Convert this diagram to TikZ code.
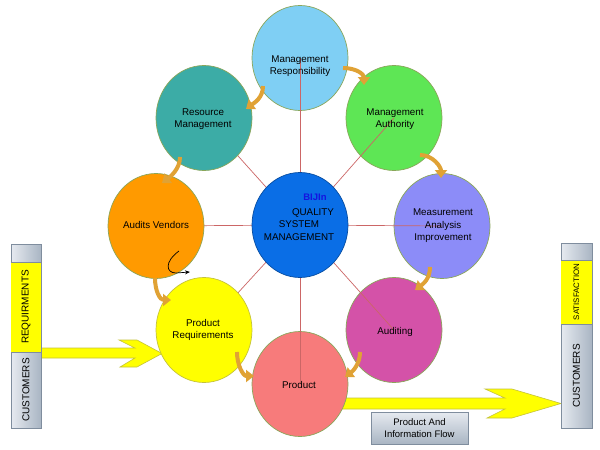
\documentclass[tikz,border=0pt]{standalone}
\usepackage{fontspec}
\setmainfont{Liberation Sans}
\usetikzlibrary{shapes.geometric,arrows.meta}
\definecolor{cMR}{HTML}{7FCFF4}
\definecolor{cMA}{HTML}{5EE655}
\definecolor{cMAI}{HTML}{8C8CF8}
\definecolor{cAud}{HTML}{D452A8}
\definecolor{cProd}{HTML}{F77B7B}
\definecolor{cPR}{HTML}{FFFF00}
\definecolor{cAV}{HTML}{FF9A00}
\definecolor{cRM}{HTML}{3CACA6}
\definecolor{cC}{HTML}{0A6EE6}
\definecolor{cSpoke}{HTML}{CC6666}
\definecolor{cGold}{HTML}{E0A235}
\definecolor{cRim}{HTML}{8AA65A}
\definecolor{cYelRim}{HTML}{C4C23A}
\definecolor{cGrayL}{HTML}{E6EAF0}
\definecolor{cGrayD}{HTML}{A9B5C3}
\definecolor{cGrayRim}{HTML}{7F8D9E}
\definecolor{cBIJ}{HTML}{1414E0}
\pgfdeclarelayer{back}
\pgfdeclarelayer{mid}
\pgfsetlayers{back,mid,main}
\tikzset{
  ell/.style={ellipse, draw=cRim, line width=0.7pt, minimum width=96pt, minimum height=105pt, inner sep=0pt},
  lbl/.style={align=center, font=\fontsize{9.8}{12.5}\selectfont, inner sep=0pt},
  spoke/.style={draw=cSpoke, line width=0.7pt},
  cursv/.style={draw=cGold, line width=4pt, -{Triangle[width=12pt,length=8pt]}},
  yelarrow/.style={fill=cPR, draw=cYelRim, line width=0.6pt},
  colbox/.style={left color=cGrayL, right color=cGrayD, draw=cGrayRim, line width=0.6pt},
  coltxt/.style={rotate=90, inner sep=0pt, font=\fontsize{10}{12}\selectfont},
}
\begin{document}
\begin{tikzpicture}[x=1pt,y=-1pt]
\useasboundingbox (0,0) rectangle (600,450);
\begin{pgfonlayer}{back}
\fill[white] (0,0) rectangle (600,450);
% yellow flow arrows
\filldraw[yelarrow] (41,348) -- (135,348) -- (119,340) -- (137,340) -- (162,353.5) -- (137,367) -- (120,367) -- (135,358) -- (41,358) -- cycle;
\filldraw[yelarrow] (335,398) -- (505,398) -- (485,389) -- (512,389) -- (561,403.5) -- (512,418) -- (487,418) -- (505,409) -- (335,409) -- cycle;
% right-side circles
\node[ell, fill=cMR] (MR) at (300,58) {};
\node[ell, fill=cMA] (MA) at (394,118) {};
\node[ell, fill=cMAI] (MAI) at (442,226) {};
\node[ell, fill=cAud] (AUD) at (394,330) {};
\node[ell, fill=cProd] (PROD) at (300,384) {};
\end{pgfonlayer}
% left-side circles and centre
\node[ell, fill=cRM] (RM) at (204,118) {};
\node[ell, fill=cAV] (AV) at (156,226) {};
\node[ell, fill=cPR, draw=cYelRim] (PR) at (204,330) {};
\node[ell, fill=cC, draw=cC!70!black] (C) at (300,225) {};
\begin{pgfonlayer}{mid}
\foreach \n in {MR,MA,MAI,AUD,PROD,PR,AV,RM} \draw[spoke] (C.center) -- (\n.center);
\end{pgfonlayer}
% labels
\node[lbl] (tMR) at (300,66) {Management\\Responsibility};
\node[lbl] (tMA) at (395,119) {Management\\Authority};
\node[lbl] (tMAI) at (443,226) {Measurement\\Analysis\\Improvement};
\node[lbl] (tAUD) at (395,332) {Auditing};
\node[lbl] (tPROD) at (299,385) {Product};
\node[lbl] (tPR) at (203,330) {Product\\Requirements};
\node[lbl] (tAV) at (156,225) {Audits Vendors};
\node[lbl] (tRM) at (203,119) {Resource\\Management};
\node[lbl] (tC) at (299,224.5) {\hspace*{28pt}QUALITY\\SYSTEM\\MANAGEMENT};
\node[inner sep=0pt, font=\fontsize{9.5}{11}\selectfont\bfseries, text=cBIJ] (bij) at (315,197) {BIJIn};
% curved process arrows
\coordinate (a1s) at (343,68);  \coordinate (a1e) at (364,85);
\coordinate (a2s) at (420,155); \coordinate (a2e) at (441,178);
\coordinate (a3s) at (430,267); \coordinate (a3e) at (415,290);
\coordinate (a4s) at (360,352); \coordinate (a4e) at (345,377);
\coordinate (a5s) at (237,352); \coordinate (a5e) at (254,376);
\coordinate (a6s) at (155,278); \coordinate (a6e) at (171,300);
\coordinate (a7s) at (180,157); \coordinate (a7e) at (162,183);
\coordinate (a8s) at (263,86);  \coordinate (a8e) at (246,109);
\draw[cursv] (a1s) .. controls +(13,0) and +(0,-11) .. (a1e);
\draw[cursv] (a2s) .. controls +(13,0) and +(0,-11) .. (a2e);
\draw[cursv] (a3s) .. controls +(0,12) and +(8,-6) .. (a3e);
\draw[cursv] (a4s) .. controls +(0,12) and +(8,-6) .. (a4e);
\draw[cursv] (a5s) .. controls +(0,13) and +(-11,0) .. (a5e);
\draw[cursv] (a6s) .. controls +(0,13) and +(-11,0) .. (a6e);
\draw[cursv] (a7s) .. controls +(0,12) and +(8,-6) .. (a7e);
\draw[cursv] (a8s) .. controls +(0,12) and +(8,-6) .. (a8e);
% small black hook arrow
\coordinate (h1) at (179,251); \coordinate (h2) at (176,273); \coordinate (h3) at (190,272);
\draw[line width=0.7pt, -{Stealth[length=5pt,width=4pt]}] (h1) .. controls (164,262) and (166,273) .. (h2) -- (h3);
% customer columns
\draw[colbox] (11,244) rectangle (41,428);
\fill[cPR] (11.3,262) rectangle (40.7,352);
\draw[cGrayRim, line width=0.4pt] (11,262) -- (41,262) (11,352) -- (41,352);
\node[coltxt] (lreq) at (26,307) {REQUIRMENTS};
\node[coltxt] (lcus) at (26,390) {CUSTOMERS};
\draw[colbox] (561,243) rectangle (592,428);
\fill[cPR] (561.3,260) rectangle (591.7,324);
\draw[cGrayRim, line width=0.4pt] (561,260) -- (592,260) (561,324) -- (592,324);
\node[coltxt, font=\fontsize{7.9}{10}\selectfont] (rsat) at (576.5,292) {SATISFACTION};
\node[coltxt] (rcus) at (576.5,376) {CUSTOMERS};
% flow box
\node[top color=cGrayL, bottom color=cGrayD, draw=cGrayRim, line width=0.6pt, minimum width=97pt, minimum height=32pt, align=center, inner sep=0pt, font=\fontsize{9.5}{12}\selectfont] (flow) at (419.5,428) {Product And\\Information Flow};
\end{tikzpicture}
\end{document}
